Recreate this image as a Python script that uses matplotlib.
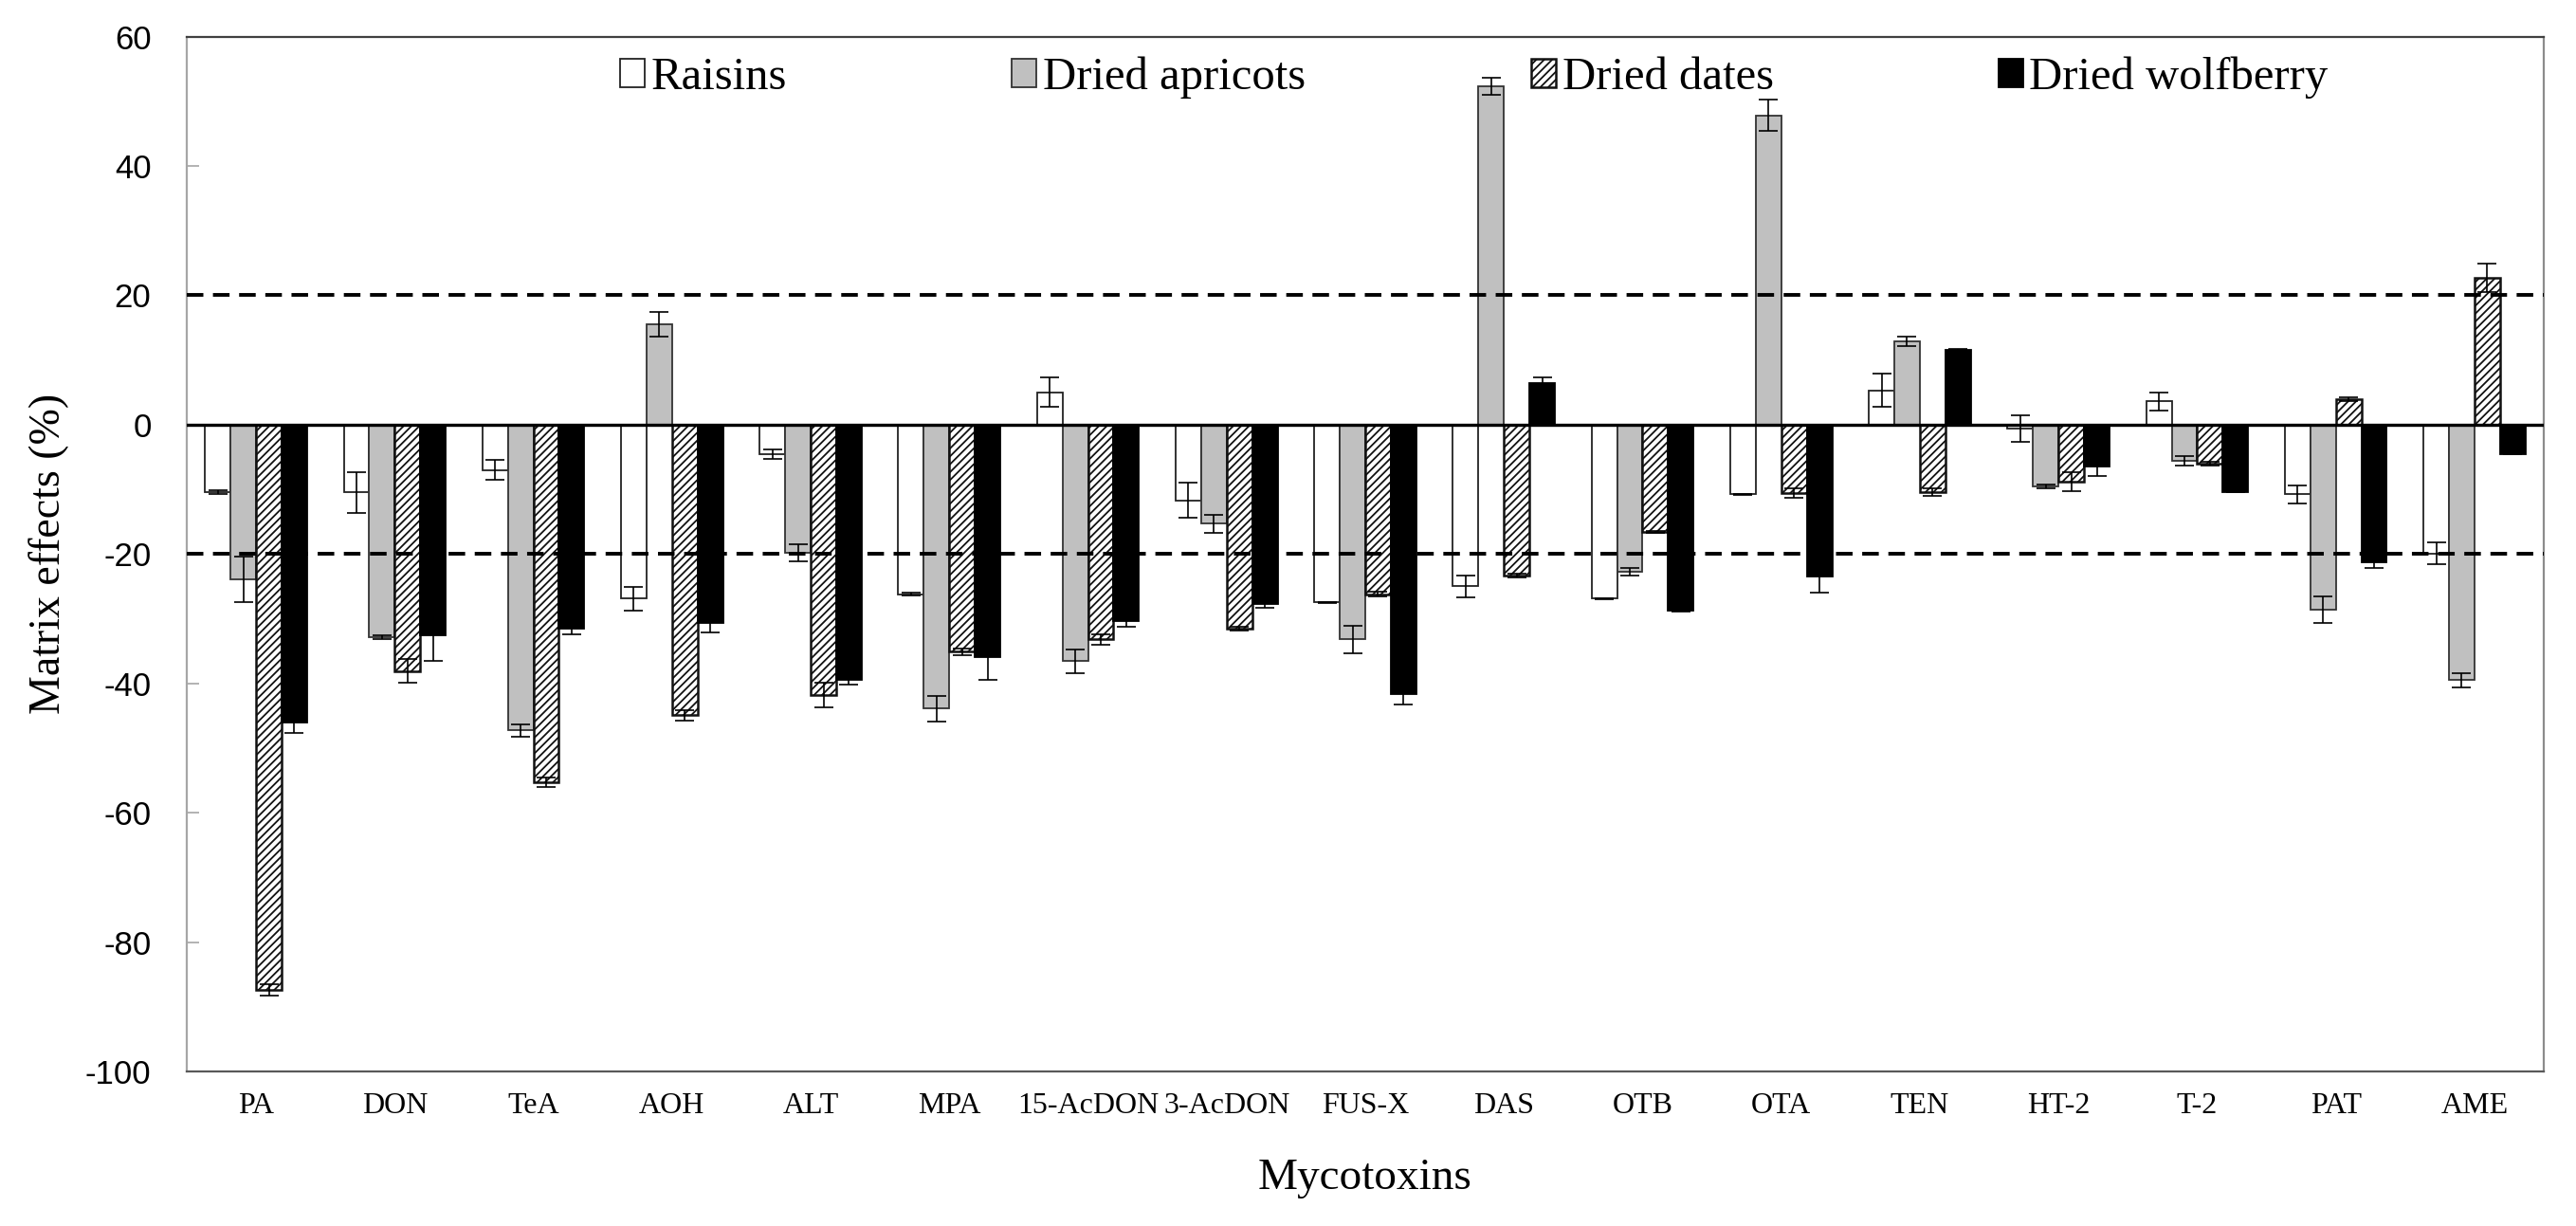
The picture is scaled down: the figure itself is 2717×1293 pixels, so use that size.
import numpy as np
import matplotlib
matplotlib.use("Agg")
import matplotlib.pyplot as plt

plt.rcParams['axes.unicode_minus'] = False
plt.rcParams['hatch.linewidth'] = 1.3

categories = ["PA", "DON", "TeA", "AOH", "ALT", "MPA", "15-AcDON", "3-AcDON", "FUS-X",
              "DAS", "OTB", "OTA", "TEN", "HT-2", "T-2", "PAT", "AME"]
series_names = ["Raisins", "Dried apricots", "Dried dates", "Dried wolfberry"]

raisins = [-10.5, -10.5, -7.0, -26.9, -4.6, -26.2, 5.0, -11.7, -27.5, -25.0, -26.9, -10.8, 5.3, -0.6, 3.6, -10.8, -19.9]
raisins_err = [0.3, 3.1, 1.5, 1.8, 0.7, 0.2, 2.3, 2.7, 0.1, 1.7, 0.1, 0.1, 2.6, 2.0, 1.4, 1.4, 1.7]
apricots = [-23.9, -32.8, -47.3, 15.5, -19.8, -43.9, -36.6, -15.3, -33.2, 52.3, -22.8, 47.8, 12.9, -9.6, -5.6, -28.6, -39.5]
apricots_err = [3.5, 0.3, 1.0, 1.9, 1.3, 2.0, 1.9, 1.4, 2.1, 1.3, 0.6, 2.4, 0.7, 0.3, 0.8, 2.0, 1.1]
dates = [-87.4, -38.1, -55.3, -44.9, -41.8, -35.1, -33.2, -31.6, -26.2, -23.4, -16.6, -10.6, -10.4, -8.8, -6.0, 3.9, 22.7]
dates_err = [0.9, 1.8, 0.7, 0.8, 1.9, 0.5, 0.8, 0.3, 0.4, 0.3, 0.1, 0.7, 0.6, 1.5, 0.3, 0.3, 2.2]
wolfberry = [-46.0, -32.6, -31.6, -30.6, -39.5, -36.0, -30.3, -27.8, -41.7, 6.4, -28.8, -23.5, 11.5, -6.5, -10.4, -21.3, -4.5]
wolfberry_err = [1.7, 4.0, 0.8, 1.5, 0.7, 3.4, 0.9, 0.5, 1.5, 0.9, 0.1, 2.5, 0.2, 1.5, 0.1, 0.8, 0.1]

yticks = [-100, -80, -60, -40, -20, 0, 20, 40, 60]
ref_lines = [20, -20]

serif = ["Liberation Serif", "DejaVu Serif"]
sans = ["Liberation Sans", "DejaVu Sans"]

fig = plt.figure(figsize=(27.17, 12.93), dpi=100)
ax = fig.add_axes([197 / 2717, 1 - 1130 / 1293, (2683 - 197) / 2717, (1130 - 38.5) / 1293])

x = np.arange(len(categories))
w = 0.184
styles = [
    dict(facecolor="white", edgecolor="#222222", hatch=None, lw=1.3),
    dict(facecolor="#c0c0c0", edgecolor="#333333", hatch=None, lw=1.3),
    dict(facecolor="white", edgecolor="#111111", hatch="////", lw=1.8),
    dict(facecolor="black", edgecolor="black", hatch=None, lw=1.3),
]
values = [raisins, apricots, dates, wolfberry]
errors = [raisins_err, apricots_err, dates_err, wolfberry_err]

handles = []
for i, (vals, errs, st, name) in enumerate(zip(values, errors, styles, series_names)):
    pos = x + (i - 1.5) * w
    b = ax.bar(pos, vals, width=w, facecolor=st["facecolor"], edgecolor=st["edgecolor"],
               hatch=st["hatch"], linewidth=st["lw"], zorder=2, label=name)
    handles.append(b)
    ax.errorbar(pos, vals, yerr=errs, fmt="none", ecolor="black", elinewidth=1.2,
                capsize=7, capthick=1.2, zorder=4)

ax.axhline(0, color="black", lw=2.4, zorder=3)
for r in ref_lines:
    ax.axhline(r, color="black", lw=2.8, ls=(0, (4.5, 2.6)), zorder=3)

ax.set_xlim(-0.5, len(categories) - 0.5)
ax.set_ylim(-100, 60)
ax.set_yticks(yticks)
ax.set_yticklabels([str(t) for t in yticks], family=sans, fontsize=25)
ax.set_xticks(x)
ax.set_xticklabels(categories, family=serif, fontsize=23)
ax.tick_params(axis="x", length=0, pad=16)
ax.tick_params(axis="y", direction="in", length=9, width=1.2, color="#a6a6a6", pad=27)

ax.spines["left"].set_color("#a6a6a6")
ax.spines["right"].set_color("#8c8c8c")
ax.spines["top"].set_color("#404040")
ax.spines["bottom"].set_color("#595959")
for s in ax.spines.values():
    s.set_linewidth(1.6)

ax.set_ylabel("Matrix effects (%)", family=serif, fontsize=33)
ax.yaxis.set_label_coords((52 - 197) / (2683 - 197), 0.5)
ax.set_xlabel("Mycotoxins", family=serif, fontsize=34)
ax.xaxis.set_label_coords(0.5, (1130 - 1243) / (1130 - 38.5))
ax.xaxis.label.set_va("center")
ax.yaxis.label.set_va("center")

fs = 35
em = fs * 100 / 72
leg = ax.legend(handles=handles, labels=series_names, ncol=4, frameon=False,
                loc="center left", bbox_to_anchor=(654 / 2717, 1 - 82 / 1293),
                bbox_transform=fig.transFigure, borderpad=0, borderaxespad=0,
                handlelength=26 / em, handleheight=27 / em, handletextpad=7 / em,
                columnspacing=237 / em, prop={"family": serif, "size": fs})

fig.savefig("out.png", dpi=100)
